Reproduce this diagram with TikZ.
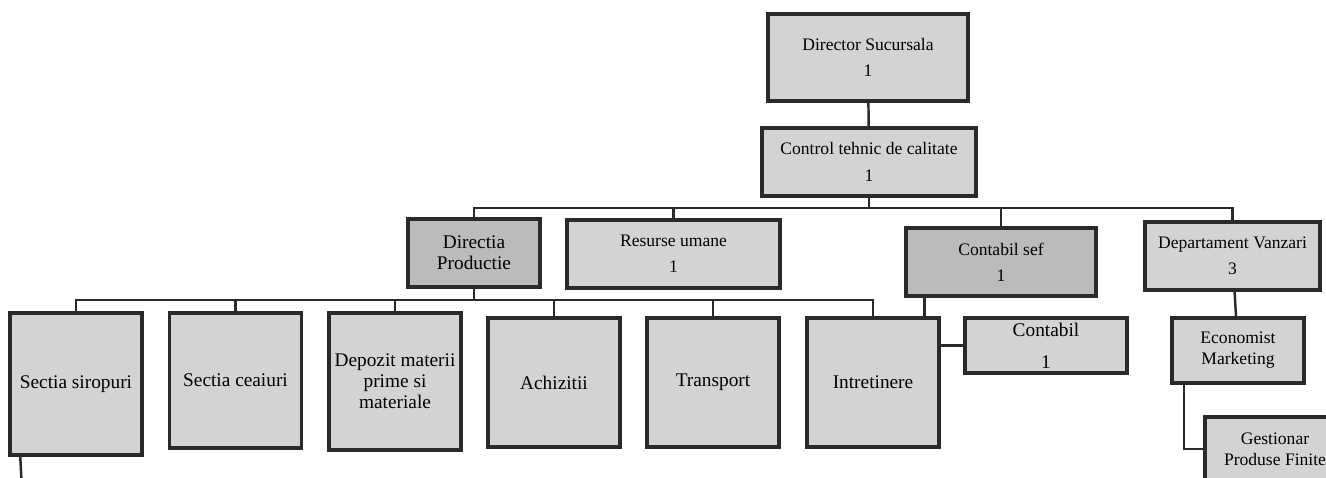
\documentclass[tikz,border=0pt]{standalone}
\usepackage{fontspec}
\setmainfont{Liberation Serif}
\usepackage{xcolor}
\usepackage{tikz}

\definecolor{boxgray}{HTML}{D3D3D3}
\definecolor{darkbox}{HTML}{BBBBBB}
\definecolor{linegray}{HTML}{2A2A2A}

\tikzset{
    unit/.style={draw=linegray,line width=2pt,fill=boxgray,align=center,inner sep=1pt,font=\fontsize{10}{12}\selectfont},
    link/.style={draw=linegray,line width=1.4pt}
}

\begin{document}
\begin{tikzpicture}[x=0.02cm,y=-0.02cm]
        \useasboundingbox (0,0) rectangle (1326,477);
        \clip (0,0) rectangle (1326,477);

        \node[unit,minimum width=4cm,minimum height=1.74cm] (dir) at (868,57.5) {Director Sucursala\\[3pt]1};
        \node[unit,minimum width=4.28cm,minimum height=1.36cm] (ctc) at (869,162) {Control tehnic de calitate\\[3pt]1};

        \node[unit,fill=darkbox,minimum width=2.64cm,minimum height=1.36cm,font=\fontsize{11}{12}\selectfont] (dp) at (474,253) {Directia\\Productie};
        \node[unit,minimum width=4.26cm,minimum height=1.36cm] (ru) at (673.5,254) {Resurse umane\\[3pt]1};
        \node[unit,fill=darkbox,minimum width=3.8cm,minimum height=1.36cm] (cs) at (1001,262) {Contabil sef\\[3pt]1};
        \node[unit,minimum width=3.5cm,minimum height=1.36cm] (dv) at (1232.5,256) {Departament Vanzari\\[3pt]3};

        \node[unit,minimum width=3.24cm,minimum height=1.1cm,font=\fontsize{11}{12}\selectfont] (con) at (1046,345.5) {Contabil\\[6pt]1};
        \node[unit,minimum width=2.64cm,minimum height=1.3cm] (em) at (1238,350.5) {Economist\\Marketing};
        \node[unit,minimum width=2.8cm,minimum height=1.28cm] (gpf) at (1275,449) {Gestionar\\Produse Finite};

        \coordinate (b1) at (869,208);
        \coordinate (b2) at (474,300);

        \draw[link] (dir) -- (ctc);
        \draw[link] (ctc) -- (b1);
        \foreach \n in {dp,ru,cs,dv}
            \draw[link] (b1) -| (\n.north);
        \draw[link] (cs.south west) ++(20,0) |- (con.west);
        \draw[link] (dv) -- (em);
        \draw[link] (em.south west) ++(14,0) |- (gpf.west);

        \foreach \x/\y/\h/\t[count=\i] in {76/384/2.84/Sectia siropuri,235.5/380.5/2.7/Sectia ceaiuri,395/381.5/2.74/{Depozit materii\\prime si\\materiale},554/382.5/2.58/Achizitii,713/382.5/2.58/Transport,873/382.5/2.58/Intretinere}
            \node[unit,minimum width=2.64cm,minimum height=\h cm,font=\fontsize{11}{12}\selectfont] (s\i) at (\x,\y) {\t};

        \draw[link] (dp) -- (b2);
        \foreach \i in {1,...,6}
            \draw[link] (b2) -| (s\i.north);

        \coordinate (s1end) at (22,490);
        \draw[link] (s1.south west) ++(12,0) -- (s1end);

    \end{tikzpicture}
\end{document}
